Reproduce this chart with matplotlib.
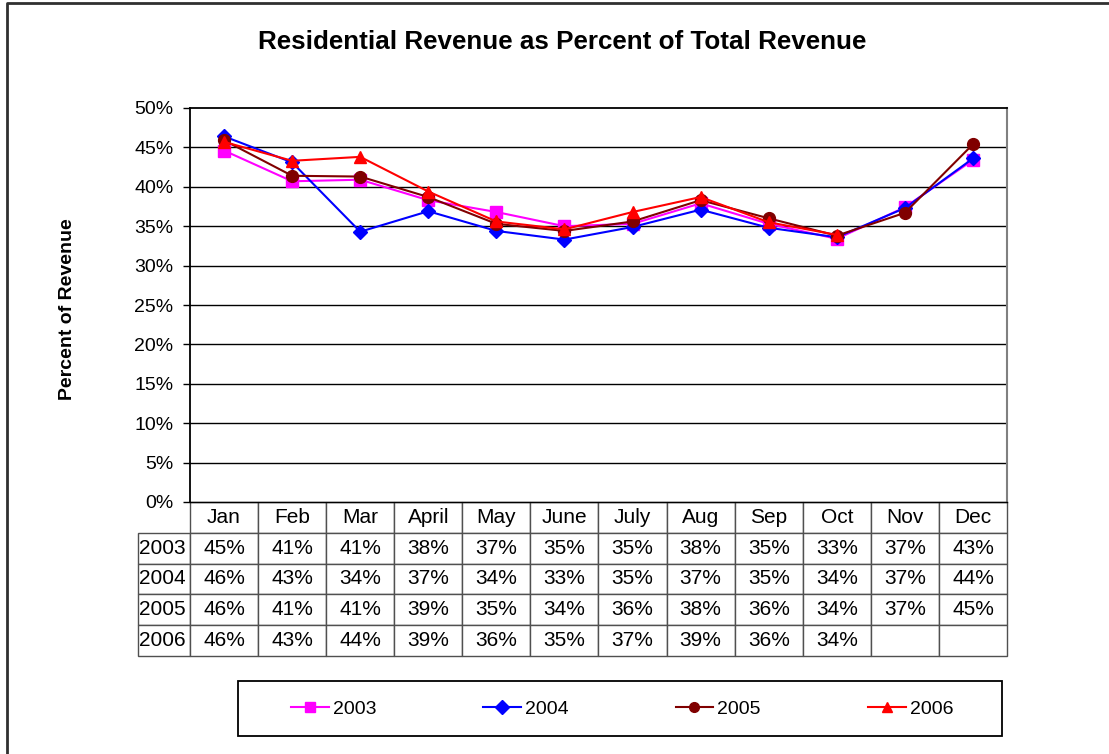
import matplotlib
matplotlib.use("Agg")
import matplotlib.pyplot as plt
from matplotlib.lines import Line2D
from matplotlib.patches import Rectangle
import numpy as np

plt.rcParams['font.family'] = ['Liberation Sans', 'DejaVu Sans']

months = ["Jan", "Feb", "Mar", "April", "May", "June", "July", "Aug", "Sep", "Oct", "Nov", "Dec"]
years = ["2003", "2004", "2005", "2006"]
v2003 = [44.6, 40.7, 40.9, 38.3, 36.8, 35.0, 35.3, 37.9, 35.3, 33.4, 37.4, 43.4]
v2004 = [46.4, 43.1, 34.3, 36.9, 34.4, 33.3, 34.9, 37.1, 34.8, 33.6, 37.3, 43.6]
v2005 = [45.9, 41.4, 41.3, 38.7, 35.3, 34.4, 35.6, 38.3, 36.0, 33.8, 36.7, 45.4]
v2006 = [45.7, 43.3, 43.8, 39.4, 35.6, 34.6, 36.8, 38.7, 35.5, 33.9, None, None]
series = [v2003, v2004, v2005, v2006]
colors = ["#FF00FF", "#0000FF", "#800000", "#FF0000"]
markers = ["s", "D", "o", "^"]
msizes = [8, 7, 8.5, 9]
yticks = [0, 5, 10, 15, 20, 25, 30, 35, 40, 45, 50]

W, H = 1109, 754
fig = plt.figure(figsize=(W / 100, H / 100), dpi=100)

def fx(px):
    return px / W

def fy(py):
    return 1 - py / H

L, R, T, B = 190, 1007, 108, 502
ax = fig.add_axes([fx(L), fy(B), fx(R) - fx(L), fy(T) - fy(B)])

x = np.arange(len(months))
for vals, c, m, ms, yr in zip(series, colors, markers, msizes, years):
    y = np.array([np.nan if v is None else v for v in vals], dtype=float)
    ax.plot(x, y, color=c, lw=1.5, marker=m, markersize=ms, markerfacecolor=c,
            markeredgecolor=c, label=yr, zorder=3)

ax.set_xlim(-0.5, len(months) - 0.5)
ax.set_ylim(0, 50)
ax.set_yticks(yticks)
ax.set_yticklabels([f"{t}%" for t in yticks], fontsize=14)
ax.tick_params(axis='y', direction='out', length=5, width=1, pad=7, colors='black')
ax.set_xticks([])
for t in yticks[1:-1]:
    ax.axhline(t, color='black', lw=1, zorder=1)
ax.spines['top'].set_color('black')
ax.spines['top'].set_linewidth(1.3)
ax.spines['left'].set_linewidth(1.3)
ax.spines['bottom'].set_linewidth(1.0)
ax.spines['right'].set_color('#808080')
ax.spines['right'].set_linewidth(1.5)

# Data table below the plot
cell_text = []
for vals in series:
    cell_text.append(["" if v is None else f"{round(v):.0f}%" for v in vals])

ax_h = B - T
ax_w = R - L
lab_w = 52
tbl = ax.table(cellText=cell_text, rowLabels=years, colLabels=months,
               cellLoc='center', rowLoc='left', colLoc='center',
               bbox=[0, -(656 - B) / ax_h, 1, (656 - B) / ax_h])
tbl.auto_set_font_size(False)
tbl.set_fontsize(15)
tbl._autoColumns = []
for (r, c), cell in tbl.get_celld().items():
    cell.set_edgecolor('#505050')
    cell.set_linewidth(1.0)
    if c == -1:
        cell.set_width(lab_w / ax_w)
        cell.PAD = 0.01
    else:
        cell.set_width(1 / 12)

fig.text(fx(562), fy(42), "Residential Revenue as Percent of Total Revenue",
         ha='center', va='center', fontsize=18.7, fontweight='bold')
fig.text(fx(67), fy(309), "Percent of Revenue", rotation=90, ha='center', va='center',
         fontsize=14, fontweight='bold')

# legend
fig.add_artist(Rectangle((fx(238), fy(736)), fx(1002) - fx(238), fy(681) - fy(736),
                         transform=fig.transFigure, fill=False, edgecolor='black', lw=1.3))
leg = fig.legend(loc='center', ncol=4, bbox_to_anchor=(fx(622), fy(709)),
                 fontsize=14, frameon=False, handlelength=1.95,
                 handletextpad=0.2, columnspacing=5.5, borderaxespad=0)
for h in leg.legend_handles:
    h.set_markersize(7)

# figure frame
fig.add_artist(Line2D([fx(7), fx(7), 1.0], [0.0, fy(3), fy(3)], color='#303030', lw=2,
                      transform=fig.transFigure))

fig.savefig("out.png", dpi=100)
